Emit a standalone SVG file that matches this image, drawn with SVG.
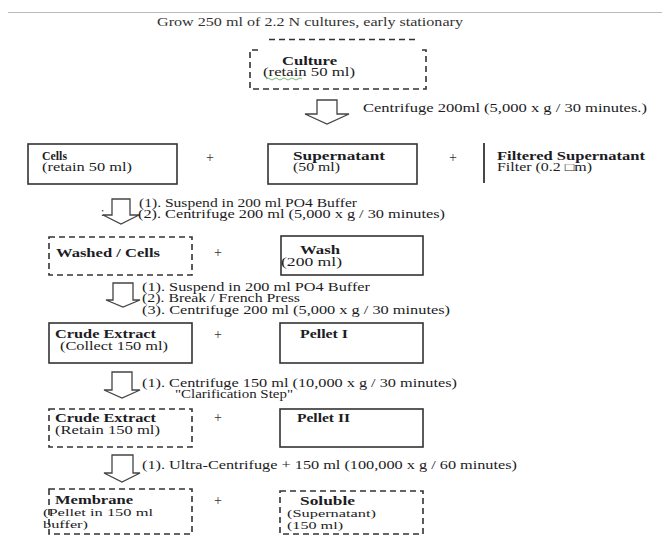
<svg xmlns="http://www.w3.org/2000/svg" width="662" height="546" viewBox="0 0 662 546">
<style>
text{font-family:"Liberation Serif","Times New Roman",serif;font-size:11.5px;fill:#1c1c24}
.b{font-weight:bold}
.t{fill:#333}
.s{font-size:10.5px}
.box{fill:none;stroke:#333;stroke-width:1.6}
.dash{fill:none;stroke:#333;stroke-width:1.6;stroke-dasharray:6,4}
.arr{fill:#fff;stroke:#444;stroke-width:1.3;stroke-linejoin:miter}
.plus{font-size:14px;fill:#333}
</style>
<rect width="662" height="546" fill="#fff"/>
<line x1="8" y1="12.5" x2="662" y2="12.5" stroke="#bbb" stroke-width="1"/>
<text class="t" x="157" y="26" textLength="306" lengthAdjust="spacingAndGlyphs">Grow 250 ml of 2.2 N cultures, early stationary</text>

<g id="culture">
<line class="dash" x1="269" y1="39.5" x2="416" y2="39.5"/>
<path class="dash" d="M258,50 H250 V89 H426 V50 H420"/>
<text class="b" x="282" y="65" textLength="55" lengthAdjust="spacingAndGlyphs">Culture</text>
<text x="263" y="76" textLength="92" lengthAdjust="spacingAndGlyphs">(retain 50 ml)</text>
<path d="M266,79 q2,-2 4,0 t4,0 t4,0 t4,0 t4,0 t4,0 t4,0 t4,0 t4,0" fill="none" stroke="#5a5" stroke-width="0.8"/>
</g>

<g id="connectors">
<path class="arr" d="M317,100 H337 V114 H349 L327,124 L305,114 H317 Z"/>
<path class="arr" d="M112,199 H130 V215 H139 L121,224 L103,215 H112 Z"/>
<path class="arr" d="M113,283 H133 V300 H140 L123,307 L106,300 H113 Z"/>
<path class="arr" d="M112,372 H132 V390 H140 L122,398 L104,390 H112 Z"/>
<path class="arr" d="M112,455 H133 V473 H140 L122,482 L104,473 H112 Z"/>
</g>

<g id="step1">
<text x="363" y="112" textLength="284" lengthAdjust="spacingAndGlyphs">Centrifuge 200ml (5,000 x g / 30 minutes.)</text>
</g>

<g id="cells">
<rect class="box" x="28" y="144" width="149" height="40"/>
<text class="b" x="42" y="160" textLength="25" lengthAdjust="spacingAndGlyphs">Cells</text>
<text x="42" y="171" textLength="90" lengthAdjust="spacingAndGlyphs">(retain 50 ml)</text>
</g>
<text class="plus" x="206" y="162">+</text>
<g id="supernatant">
<rect class="box" x="268" y="144" width="149" height="40"/>
<text class="b" x="293" y="160" textLength="92" lengthAdjust="spacingAndGlyphs">Supernatant</text>
<text x="293" y="171" textLength="47" lengthAdjust="spacingAndGlyphs">(50 ml)</text>
</g>
<text class="plus" x="449" y="162">+</text>
<g id="filtered">
<line x1="484" y1="143" x2="484" y2="183" stroke="#333" stroke-width="1.8"/>
<text class="b" x="497" y="160" textLength="148" lengthAdjust="spacingAndGlyphs">Filtered Supernatant</text>
<text x="497" y="171" textLength="95" lengthAdjust="spacingAndGlyphs">Filter (0.2 □m)</text>
</g>

<g id="step2">
<text x="139" y="207" textLength="218" lengthAdjust="spacingAndGlyphs">(1). Suspend in 200 ml PO4 Buffer</text>
<text x="138" y="218" textLength="307" lengthAdjust="spacingAndGlyphs">(2).  Centrifuge 200 ml (5,000 x g / 30 minutes)</text>
<text x="101" y="216" font-size="8">:</text>
</g>

<g id="washed">
<rect class="dash" x="49" y="237" width="143" height="38"/>
<text class="b" x="56" y="257" textLength="104" lengthAdjust="spacingAndGlyphs">Washed / Cells</text>
</g>
<text class="plus" x="214" y="257">+</text>
<g id="wash">
<rect class="box" x="281" y="236" width="142" height="39"/>
<text class="b" x="300" y="254" textLength="40" lengthAdjust="spacingAndGlyphs">Wash</text>
<text x="281" y="266" textLength="61" lengthAdjust="spacingAndGlyphs">(200 ml)</text>
</g>

<g id="step3">
<text x="142" y="291" textLength="228" lengthAdjust="spacingAndGlyphs">(1). Suspend in 200 ml PO4 Buffer</text>
<text x="142" y="302" textLength="158" lengthAdjust="spacingAndGlyphs">(2). Break / French Press</text>
<text x="142" y="314" textLength="308" lengthAdjust="spacingAndGlyphs">(3). Centrifuge 200 ml (5,000 x g / 30 minutes)</text>
</g>

<g id="crude1">
<rect class="box" x="49" y="323" width="143" height="40"/>
<text class="b" x="55" y="338" textLength="101" lengthAdjust="spacingAndGlyphs">Crude Extract</text>
<text x="60" y="350" textLength="108" lengthAdjust="spacingAndGlyphs">(Collect 150 ml)</text>
</g>
<text class="plus" x="214" y="339">+</text>
<g id="pellet1">
<rect class="box" x="280" y="323" width="143" height="40"/>
<text class="b" x="300" y="338" textLength="48" lengthAdjust="spacingAndGlyphs">Pellet I</text>
</g>

<g id="step4">
<text x="142" y="387" textLength="315" lengthAdjust="spacingAndGlyphs">(1). Centrifuge 150 ml (10,000 x g / 30 minutes)</text>
<text x="175" y="398" textLength="118" lengthAdjust="spacingAndGlyphs">"Clarification Step"</text>
</g>

<g id="crude2">
<rect class="dash" x="49" y="409" width="143" height="38"/>
<text class="b" x="55" y="422" textLength="101" lengthAdjust="spacingAndGlyphs">Crude Extract</text>
<text x="55" y="434" textLength="105" lengthAdjust="spacingAndGlyphs">(Retain 150 ml)</text>
</g>
<text class="plus" x="214" y="422">+</text>
<g id="pellet2">
<rect class="box" x="280" y="409" width="143" height="38"/>
<text class="b" x="297" y="422" textLength="53" lengthAdjust="spacingAndGlyphs">Pellet II</text>
</g>

<g id="step5">
<text x="142" y="469" textLength="375" lengthAdjust="spacingAndGlyphs">(1). Ultra-Centrifuge + 150 ml (100,000 x g / 60 minutes)</text>
</g>

<g id="membrane">
<rect class="dash" x="49" y="489" width="143" height="45"/>
<text class="b" x="55" y="504" textLength="78" lengthAdjust="spacingAndGlyphs">Membrane</text>
<text class="s" x="43" y="516" textLength="110" lengthAdjust="spacingAndGlyphs">(Pellet in 150 ml</text>
<text class="s" x="43" y="528" textLength="45" lengthAdjust="spacingAndGlyphs">buffer)</text>
</g>
<text class="plus" x="214" y="505">+</text>
<g id="soluble">
<rect class="dash" x="280" y="491" width="143" height="43"/>
<text class="b" x="300" y="505" textLength="55" lengthAdjust="spacingAndGlyphs">Soluble</text>
<text class="s" x="287" y="517" textLength="89" lengthAdjust="spacingAndGlyphs">(Supernatant)</text>
<text class="s" x="287" y="529" textLength="56" lengthAdjust="spacingAndGlyphs">(150 ml)</text>
</g>
</svg>
